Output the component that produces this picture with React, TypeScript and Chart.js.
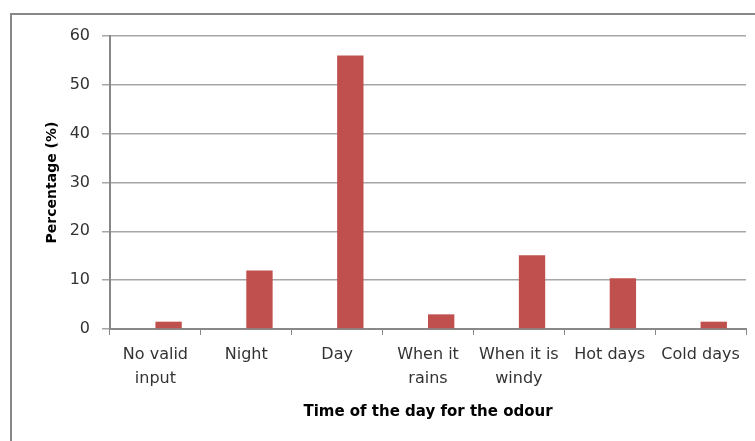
import React, { useEffect, useRef } from "react";
import { Chart, registerables } from "chart.js";

Chart.register(...registerables);

const categories: (string | string[])[] = [
  ["No valid", "input"],
  "Night",
  "Day",
  ["When it", "rains"],
  ["When it is", "windy"],
  "Hot days",
  "Cold days",
];
const emptySeries = [0, 0, 0, 0, 0, 0, 0];
const percentages = [1.5, 12, 56, 3, 15.1, 10.4, 1.5];
const yTickValues = [0, 10, 20, 30, 40, 50, 60];
const xTitle = "Time of the day for the odour";
const yTitle = "Percentage (%)";

export default function App() {
  const ref = useRef<HTMLCanvasElement | null>(null);

  useEffect(() => {
    if (!ref.current) return;
    const chart = new Chart(ref.current, {
      type: "bar",
      data: {
        labels: categories,
        datasets: [
          {
            label: "blank",
            data: emptySeries,
            backgroundColor: "rgba(0,0,0,0)",
            categoryPercentage: 0.58,
            barPercentage: 1,
          },
          {
            label: "Percentage",
            data: percentages,
            backgroundColor: "#c0504d",
            categoryPercentage: 0.58,
            barPercentage: 1,
          },
        ],
      },
      options: {
        animation: false,
        responsive: false,
        maintainAspectRatio: false,
        layout: { padding: { left: 35, top: 36, right: 9, bottom: 0 } },
        plugins: {
          legend: { display: false },
          tooltip: { enabled: false },
        },
        scales: {
          x: {
            grid: {
              offset: true,
              drawOnChartArea: false,
              drawTicks: true,
              tickLength: 6,
              color: "#888888",
            },
            border: { color: "#888888", width: 2 },
            ticks: {
              color: "#333333",
              padding: 8,
              maxRotation: 0,
              autoSkip: false,
              font: { family: "DejaVu Sans", size: 16, lineHeight: 1.5 },
            },
            title: {
              display: true,
              text: xTitle,
              color: "#000000",
              font: { family: "DejaVu Sans", size: 15, weight: "bold" },
              padding: { top: 0, bottom: 20 },
            },
            afterFit: (scale: any) => {
              scale.height = 112;
            },
          },
          y: {
            min: 0,
            max: 60,
            afterBuildTicks: (scale: any) => {
              scale.ticks = yTickValues.map((v) => ({ value: v }));
            },
            grid: {
              color: "#a6a6a6",
              lineWidth: 1.5,
              drawTicks: true,
              tickLength: 8,
            },
            border: { color: "#888888", width: 2 },
            ticks: {
              color: "#333333",
              padding: 12,
              font: { family: "DejaVu Sans", size: 16 },
            },
            title: {
              display: true,
              text: yTitle,
              color: "#000000",
              font: { family: "DejaVu Sans", size: 14, weight: "bold" },
              padding: { top: 8.6, bottom: 0 },
            },
            afterFit: (scale: any) => {
              scale.width = 75;
            },
          },
        },
      },
    });
    return () => chart.destroy();
  }, []);

  return (
    <div
      style={{
        position: "absolute",
        left: 0,
        top: 0,
        width: 755,
        height: 441,
        overflow: "hidden",
        background: "#ffffff",
      }}
    >
      <div
        style={{
          position: "absolute",
          left: 10,
          top: 13,
          width: 800,
          height: 500,
          border: "2px solid #888888",
          boxSizing: "border-box",
        }}
      />
      <canvas
        ref={ref}
        width={755}
        height={441}
        style={{ position: "absolute", left: 0, top: 0, width: 755, height: 441 }}
      />
    </div>
  );
}
